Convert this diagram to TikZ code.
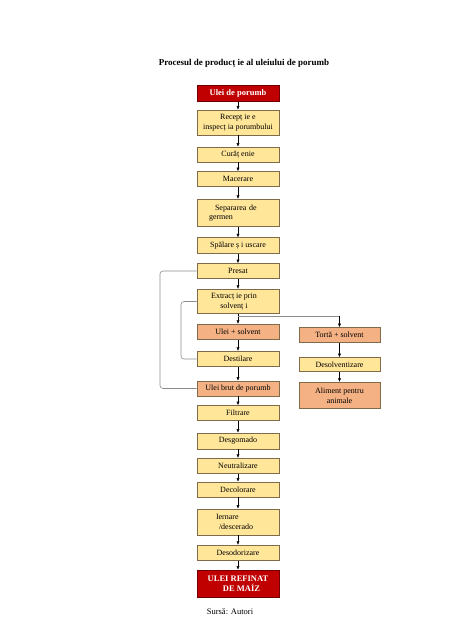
\documentclass[tikz,border=0pt]{standalone}
\usepackage{fontspec}
\setmainfont{Liberation Serif}
\usetikzlibrary{arrows.meta}
\definecolor{boxline}{HTML}{7F6A4A}
\definecolor{yelfill}{HTML}{FFE699}
\definecolor{orfill}{HTML}{F4B183}
\definecolor{redfill}{HTML}{C00000}
\definecolor{loopgray}{HTML}{8C8C8C}
\tikzset{
  box/.style={draw=boxline, line width=0.6pt, minimum width=82pt, inner sep=1pt,
    font=\fontsize{8}{9.6}\selectfont, align=center},
  yel/.style={box, fill=yelfill},
  ora/.style={box, fill=orfill},
  redb/.style={box, fill=redfill, draw=redfill!60!black, text=white, font=\fontsize{8.5}{10}\selectfont\bfseries},
  arr/.style={-{Latex[length=3.5pt,width=3pt]}, line width=0.5pt, black},
  loopline/.style={draw=loopgray, line width=0.6pt, rounded corners=3pt},
}
\begin{document}
\begin{tikzpicture}[x=1pt,y=-1pt]
\useasboundingbox (0,0) rectangle (474,632);
\fill[white] (0,0) rectangle (474,632);
\node[font=\fontsize{9}{11}\selectfont\bfseries] (title) at (244,64) {Procesul de producț ie al uleiului de porumb};
% main column
\node[redb, minimum height=15.5pt] (ulei) at (238,93.5) {Ulei de porumb};
\node[yel, minimum height=25pt] (recep) at (238,122.5) {Recepț ie e\\inspecț ia porumbului};
\node[yel, minimum height=15pt] (curat) at (238,154.5) {Curăț enie};
\node[yel, minimum height=15pt] (macer) at (238,179) {Macerare};
\node[yel, minimum height=27.5pt, text width=78pt, align=left] (separ) at (238,213) {\hspace*{16pt}Separarea de\\\hspace*{10pt}germen};
\node[yel, minimum height=15.5pt] (spal) at (238,245.5) {Spălare ș i uscare};
\node[yel, minimum height=15pt] (presat) at (238,271) {Presat};
\node[yel, minimum height=24.5pt] (extr) at (238,301.5) {\hspace*{-8pt}Extracț ie prin\\\hspace*{-8pt}solvenț i};
\node[ora, minimum height=15.5pt] (uleisolv) at (238,332) {Ulei + solvent};
\node[yel, minimum height=15.5pt] (destil) at (238,359) {Destilare};
\node[ora, minimum height=15pt] (uleibrut) at (238,388.5) {Ulei brut de porumb};
\node[yel, minimum height=15pt] (filtr) at (238,413) {Filtrare};
\node[yel, minimum height=16pt] (desgom) at (238,441) {Desgomado};
\node[yel, minimum height=15.5pt] (neutr) at (238,466) {Neutralizare};
\node[yel, minimum height=15pt] (decol) at (238,489.5) {Decolorare};
\node[yel, minimum height=26pt, text width=78pt, align=left] (iern) at (238,522) {\hspace*{17pt}Iernare\\\hspace*{20pt}/descerado};
\node[yel, minimum height=15.5pt] (desod) at (238,553) {Desodorizare};
\node[redb, minimum height=27pt] (refin) at (238,583.5) {ULEI REFINAT\\\hspace*{7pt}DE MAÍZ};
% right column
\node[ora, minimum width=81pt, minimum height=15pt] (torta) at (339.5,335) {Tortă + solvent};
\node[yel, minimum width=81pt, minimum height=14pt] (desolv) at (339.5,364.5) {Desolventizare};
\node[ora, minimum width=81pt, minimum height=26.5pt] (alim) at (339.5,395.5) {Aliment pentru\\animale};
% source
\node[font=\fontsize{8.5}{10}\selectfont] (src) at (230,611.5) {Sursă: Autori};
% arrows main
\foreach \a/\b in {ulei/recep,recep/curat,curat/macer,macer/separ,separ/spal,spal/presat,presat/extr,extr/uleisolv,uleisolv/destil,destil/uleibrut,uleibrut/filtr,filtr/desgom,desgom/neutr,neutr/decol,decol/iern,iern/desod,desod/refin,torta/desolv,desolv/alim}
  \draw[arr] (\a.south) -- (\b.north);
% branch to right
\coordinate (j1) at (238,316);
\coordinate (j2) at (339.5,316);
\draw[draw=loopgray, line width=0.6pt] (j1) -- (j2);
\draw[arr] (j2) -- (torta.north);
% loops
\coordinate (o1) at (160,271);
\coordinate (o2) at (160,388.5);
\draw[loopline] (presat.west) -- (o1) -- (o2) -- (uleibrut.west);
\coordinate (i1) at (181,301.5);
\coordinate (i2) at (181,359);
\draw[loopline] (extr.west) -- (i1) -- (i2) -- (destil.west);
\end{tikzpicture}
\end{document}
